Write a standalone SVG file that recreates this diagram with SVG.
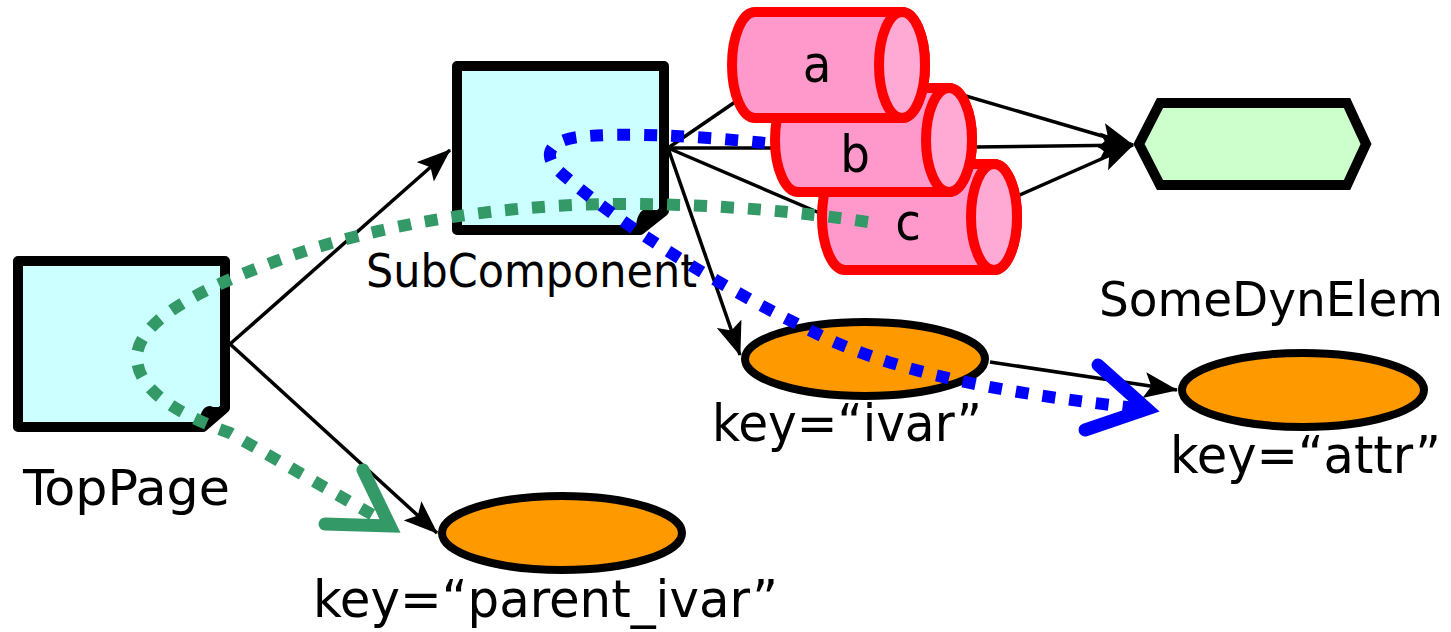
<svg xmlns="http://www.w3.org/2000/svg" width="1451" height="632" viewBox="0 0 1451 632">
  <style>
    .lbl { font-family: "DejaVu Sans Condensed", "DejaVu Sans", sans-serif; font-stretch: condensed; fill: #000; }
    .page { fill: #CCFFFF; stroke: #000; stroke-width: 10; stroke-linejoin: round; }
    .fold { fill: #000; }
    .body { fill: #FF99CC; stroke: #FF0000; stroke-width: 10; stroke-linejoin: round; }
    .cap { fill: #FFAAD5; stroke: #FF0000; stroke-width: 10; }
    .key { fill: #FF9900; stroke: #000; stroke-width: 8; }
    .dyn { fill: #CCFFCC; stroke: #000; stroke-width: 10; stroke-linejoin: miter; }
    .edge { fill: none; stroke: #000; stroke-width: 3.5; }
    .plain { fill: none; stroke: #000; stroke-width: 3.5; }
    .green { fill: none; stroke: #339966; stroke-width: 12; stroke-dasharray: 13 14; }
    .blue { fill: none; stroke: #0000FF; stroke-width: 12; stroke-dasharray: 13 14; }
    .chev-g { fill: none; stroke: #339966; stroke-width: 13; stroke-linecap: round; stroke-linejoin: miter; stroke-miterlimit: 6; }
    .chev-b { fill: none; stroke: #0000FF; stroke-width: 13; stroke-linecap: round; stroke-linejoin: miter; stroke-miterlimit: 6; }
  </style>
  <defs>
    <marker id="head" viewBox="0 0 34 26" refX="33" refY="13" markerWidth="34" markerHeight="26" markerUnits="userSpaceOnUse" orient="auto">
      <path d="M0,0 L34,13 L0,26 L7,13 Z" fill="#000"/>
    </marker>
  </defs>

  <rect width="1451" height="632" fill="#fff"/>

  <!-- structural links -->
  <g id="connectors">
    <path class="edge" d="M230,344 L450,150" marker-end="url(#head)"/>
    <path class="edge" d="M230,344 L437,533" marker-end="url(#head)"/>
    <path class="plain" d="M668,148 L735,102"/>
    <path class="plain" d="M668,148 L775,148"/>
    <path class="plain" d="M668,148 L822,214"/>
    <path class="edge" d="M668,148 L740,355" marker-end="url(#head)"/>
    <path class="edge" d="M925,84 L1133,145" marker-end="url(#head)"/>
    <path class="edge" d="M975,147 L1133,145" marker-end="url(#head)"/>
    <path class="edge" d="M1015,197 L1133,145" marker-end="url(#head)"/>
    <path class="edge" d="M990,362 L1177,390" marker-end="url(#head)"/>
  </g>

  <g id="TopPage">
    <path class="page" d="M18,261 H225 V408 L203,427 H18 Z"/>
    <path class="fold" d="M199,425 C199,413 205,403 213,407 L228,407 L228,411 L204,431 Z"/>
    <text class="lbl" x="23" y="505" font-size="50" textLength="207" lengthAdjust="spacingAndGlyphs">TopPage</text>
  </g>

  <g id="SubComponent">
    <path class="page" d="M457,66 H664 V211 L640,230 H457 Z"/>
    <path class="fold" d="M636,228 C636,216 642,206 650,210 L667,210 L667,214 L641,234 Z"/>
    <text class="lbl" x="366" y="287" font-size="47" textLength="331" lengthAdjust="spacingAndGlyphs">SubComponent</text>
  </g>

  <g id="cyl-c">
    <path class="body" d="M845,164 L994,164 A23,53 0 0 1 994,270 L845,270 A23,53 0 0 1 845,164 Z"/>
    <ellipse class="cap" cx="994" cy="217" rx="23" ry="53"/>
    <text class="lbl" x="908" y="240" font-size="52" text-anchor="middle">c</text>
  </g>

  <g id="cyl-b">
    <path class="body" d="M798,88 L949,88 A23,52 0 0 1 949,192 L798,192 A23,52 0 0 1 798,88 Z"/>
    <ellipse class="cap" cx="949" cy="140" rx="23" ry="52"/>
    <text class="lbl" x="855" y="172" font-size="52" text-anchor="middle">b</text>
  </g>

  <g id="cyl-a">
    <path class="body" d="M755,12 L902,12 A23,53 0 0 1 902,118 L755,118 A23,53 0 0 1 755,12 Z"/>
    <ellipse class="cap" cx="902" cy="65" rx="23" ry="53"/>
    <text class="lbl" x="817" y="82" font-size="52" text-anchor="middle">a</text>
  </g>

  <g id="SomeDynElem">
    <polygon class="dyn" points="1139,144 1160,103 1347,103 1366,144 1347,185 1160,185"/>
    <text class="lbl" x="1099" y="316" font-size="48" textLength="344" lengthAdjust="spacingAndGlyphs">SomeDynElem</text>
  </g>

  <g id="key-ivar">
    <ellipse class="key" cx="865" cy="359" rx="120" ry="37"/>
    <text class="lbl" x="712" y="441" font-size="52" textLength="270" lengthAdjust="spacingAndGlyphs">key=“ivar”</text>
  </g>

  <g id="key-attr">
    <ellipse class="key" cx="1303" cy="390" rx="121" ry="37"/>
    <text class="lbl" x="1170" y="473" font-size="52" textLength="271" lengthAdjust="spacingAndGlyphs">key=“attr”</text>
  </g>

  <g id="key-parent_ivar">
    <ellipse class="key" cx="562" cy="533" rx="120" ry="37"/>
    <text class="lbl" x="313" y="617" font-size="52" textLength="465" lengthAdjust="spacingAndGlyphs">key=“parent_ivar”</text>
  </g>

  <!-- key lookup paths -->
  <g id="lookup-paths">
    <path class="green" d="M868,222 C800,212 720,204 620,204 C500,204 380,225 290,256 C200,288 140,320 137,355 C135,390 180,415 230,433 L385,522"/>
    <polyline class="chev-g" points="363,470 390,526 325,524"/>
    <path class="blue" d="M765,143 C700,136 620,132 578,137 C548,141 542,156 560,172 C620,225 720,288 830,340 C920,380 1030,396 1145,409"/>
    <polyline class="chev-b" points="1098,365 1147,409 1085,430"/>
  </g>
</svg>
